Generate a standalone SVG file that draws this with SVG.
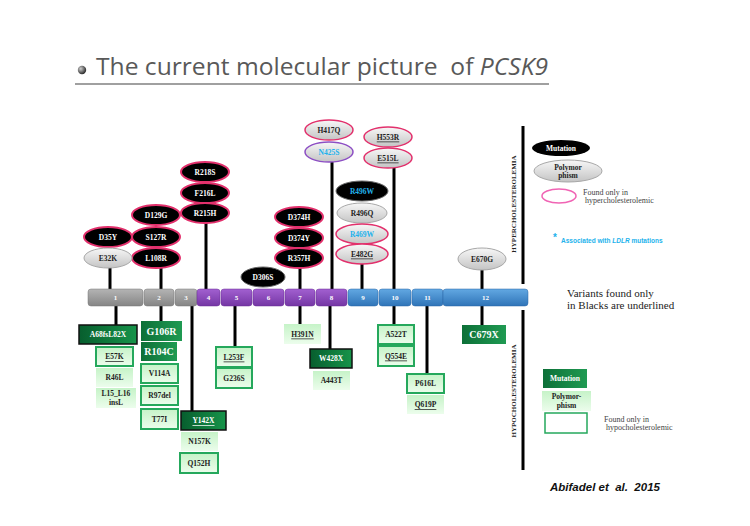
<svg xmlns="http://www.w3.org/2000/svg" width="750" height="526" viewBox="0 0 750 526">
<defs>
<linearGradient id="gray" x1="0" y1="0" x2="0" y2="1"><stop offset="0" stop-color="#f7f7f7"/><stop offset="1" stop-color="#c4c4c4"/></linearGradient>
<linearGradient id="exg" x1="0" y1="0" x2="0" y2="1"><stop offset="0" stop-color="#b4b4b4"/><stop offset="1" stop-color="#858585"/></linearGradient>
<linearGradient id="exp" x1="0" y1="0" x2="0" y2="1"><stop offset="0" stop-color="#a260d0"/><stop offset="1" stop-color="#7436a4"/></linearGradient>
<linearGradient id="exb" x1="0" y1="0" x2="0" y2="1"><stop offset="0" stop-color="#62a8e2"/><stop offset="1" stop-color="#2f74b8"/></linearGradient>
<linearGradient id="dg" x1="0" y1="0" x2="1" y2="0"><stop offset="0" stop-color="#075e2e"/><stop offset="1" stop-color="#17944a"/></linearGradient>
<linearGradient id="mg" x1="0" y1="0" x2="1" y2="0"><stop offset="0" stop-color="#0d7038"/><stop offset="1" stop-color="#1f9a52"/></linearGradient>
<linearGradient id="lg" x1="0" y1="0" x2="0" y2="1"><stop offset="0" stop-color="#c6f3c8"/><stop offset="1" stop-color="#ecfdec"/></linearGradient>
<radialGradient id="ball" cx="0.35" cy="0.35" r="0.7"><stop offset="0" stop-color="#cfcfcf"/><stop offset="1" stop-color="#222"/></radialGradient>
<style>
.mut{fill:#000;stroke:#e2306c;stroke-width:2}
.mutb{fill:#000;stroke:#666;stroke-width:1}
.poly{fill:url(#gray);stroke:#a8a8a8;stroke-width:1}
.polyp{fill:url(#gray);stroke:#e2306c;stroke-width:1.5}
.polyv{fill:url(#gray);stroke:#8d4fc4;stroke-width:1.5}
.t{font-family:"Liberation Serif",serif;font-weight:bold;font-size:7.5px;text-anchor:middle;dominant-baseline:central;fill:#222}
.w{fill:#fff}
.cy{fill:#22b2ec}
.u{text-decoration:underline}
.big{font-size:10px}
.dgr{fill:url(#dg);stroke:#111;stroke-width:1.5}
.mgr{fill:url(#mg)}
.lgs{fill:url(#lg);stroke:#25a85c;stroke-width:2}
.lgn{fill:url(#lg)}
.ex{font-family:"Liberation Serif",serif;font-weight:bold;font-size:7px;fill:#fff;text-anchor:middle;dominant-baseline:central}
.cn line{stroke:#000;stroke-width:3}
.leg{font-family:"Liberation Serif",serif;font-size:8px;fill:#444}
</style>
</defs>
<rect width="750" height="526" fill="#fff"/>
<g id="title">
<circle cx="82" cy="70" r="4.2" fill="url(#ball)"/>
<text x="96" y="75" font-family="Open Sans, sans-serif" font-size="23" fill="#595959" xml:space="preserve" textLength="452" lengthAdjust="spacingAndGlyphs">The current molecular picture  of <tspan font-style="italic">PCSK9</tspan></text>
<line x1="75" y1="84" x2="549" y2="84" stroke="#808080" stroke-width="1.5"/>
</g>
<g id="connectors" class="cn">
<line x1="110" y1="268" x2="110" y2="289"/>
<line x1="161" y1="268" x2="161" y2="289"/>
<line x1="206" y1="223" x2="206" y2="289"/>
<line x1="300" y1="268" x2="300" y2="289"/>
<line x1="332" y1="162" x2="332" y2="289"/>
<line x1="362" y1="264" x2="362" y2="289"/>
<line x1="394" y1="168" x2="394" y2="289"/>
<line x1="482" y1="270" x2="482" y2="289"/>
<line x1="116" y1="306" x2="116" y2="325"/>
<line x1="161" y1="306" x2="161" y2="321"/>
<line x1="192" y1="306" x2="192" y2="411"/>
<line x1="235" y1="306" x2="235" y2="347"/>
<line x1="300" y1="306" x2="300" y2="324"/>
<line x1="330" y1="306" x2="330" y2="349"/>
<line x1="394" y1="306" x2="394" y2="325"/>
<line x1="427" y1="306" x2="427" y2="374"/>
<line x1="482" y1="306" x2="482" y2="325"/>
<line x1="523" y1="126" x2="523" y2="284"/>
<line x1="523" y1="310" x2="523" y2="470"/>
</g>
<g id="exons">
<rect x="88" y="289" width="55" height="17" rx="3" fill="url(#exg)" stroke="#777" stroke-width="0.5"/><text class="ex" x="115.5" y="297.5">1</text>
<rect x="144" y="289" width="30" height="17" rx="3" fill="url(#exg)" stroke="#777" stroke-width="0.5"/><text class="ex" x="159" y="297.5">2</text>
<rect x="175" y="289" width="22" height="17" rx="3" fill="url(#exg)" stroke="#777" stroke-width="0.5"/><text class="ex" x="186" y="297.5">3</text>
<rect x="197" y="289" width="23" height="17" rx="3" fill="url(#exp)" stroke="#6a2f96" stroke-width="0.5"/><text class="ex" x="208.5" y="297.5">4</text>
<rect x="221" y="289" width="31" height="17" rx="3" fill="url(#exp)" stroke="#6a2f96" stroke-width="0.5"/><text class="ex" x="236.5" y="297.5">5</text>
<rect x="253" y="289" width="31" height="17" rx="3" fill="url(#exp)" stroke="#6a2f96" stroke-width="0.5"/><text class="ex" x="268.5" y="297.5">6</text>
<rect x="285" y="289" width="30" height="17" rx="3" fill="url(#exp)" stroke="#6a2f96" stroke-width="0.5"/><text class="ex" x="300" y="297.5">7</text>
<rect x="316" y="289" width="31" height="17" rx="3" fill="url(#exp)" stroke="#6a2f96" stroke-width="0.5"/><text class="ex" x="331.5" y="297.5">8</text>
<rect x="348" y="289" width="30" height="17" rx="3" fill="url(#exb)" stroke="#2a66a6" stroke-width="0.5"/><text class="ex" x="363" y="297.5">9</text>
<rect x="379" y="289" width="32" height="17" rx="3" fill="url(#exb)" stroke="#2a66a6" stroke-width="0.5"/><text class="ex" x="395" y="297.5">10</text>
<rect x="412" y="289" width="31" height="17" rx="3" fill="url(#exb)" stroke="#2a66a6" stroke-width="0.5"/><text class="ex" x="427.5" y="297.5">11</text>
<rect x="443" y="289" width="85" height="17" rx="3" fill="url(#exb)" stroke="#2a66a6" stroke-width="0.5"/><text class="ex" x="485.5" y="297.5">12</text>
</g>
<g id="R218S"><ellipse class="mut" cx="205" cy="172" rx="24" ry="10"/><text class="t w" x="205" y="172">R218S</text></g>
<g id="F216L"><ellipse class="mut" cx="205" cy="193" rx="24" ry="10"/><text class="t w" x="205" y="193">F216L</text></g>
<g id="R215H"><ellipse class="mut" cx="205" cy="213" rx="24" ry="10"/><text class="t w" x="205" y="213">R215H</text></g>
<g id="D129G"><ellipse class="mut" cx="156" cy="215" rx="24" ry="10"/><text class="t w" x="156" y="215">D129G</text></g>
<g id="S127R"><ellipse class="mut" cx="156" cy="237" rx="24" ry="10"/><text class="t w" x="156" y="237">S127R</text></g>
<g id="L108R"><ellipse class="mut" cx="156" cy="258" rx="24" ry="10"/><text class="t w" x="156" y="258">L108R</text></g>
<g id="D35Y"><ellipse class="mut" cx="108" cy="237" rx="24" ry="10"/><text class="t w" x="108" y="237">D35Y</text></g>
<g id="E32K"><ellipse class="poly" cx="108" cy="258" rx="24" ry="10"/><text class="t" x="108" y="258">E32K</text></g>
<g id="D306S"><ellipse class="mutb" cx="263" cy="277" rx="22" ry="10"/><text class="t w" x="263" y="277">D306S</text></g>
<g id="D374H"><ellipse class="mut" cx="299" cy="217" rx="24" ry="10"/><text class="t w" x="299" y="217">D374H</text></g>
<g id="D374Y"><ellipse class="mut" cx="299" cy="238" rx="24" ry="10"/><text class="t w" x="299" y="238">D374Y</text></g>
<g id="R357H"><ellipse class="mut" cx="299" cy="258" rx="24" ry="10"/><text class="t w" x="299" y="258">R357H</text></g>
<g id="H417Q"><ellipse class="polyp" cx="329" cy="130" rx="24" ry="10"/><text class="t" x="329" y="130">H417Q</text></g>
<g id="N425S"><ellipse class="polyv" cx="329" cy="152" rx="24" ry="10"/><text class="t cy" x="329" y="152">N425S</text></g>
<g id="H553R"><ellipse class="polyp" cx="388" cy="137" rx="24" ry="10"/><text class="t u" x="388" y="137">H553R</text></g>
<g id="E515L"><ellipse class="polyp" cx="388" cy="158" rx="24" ry="10"/><text class="t u" x="388" y="158">E515L</text></g>
<g id="R496W"><ellipse class="mutb" cx="362" cy="191" rx="26" ry="10"/><text class="t cy" x="362" y="191">R496W</text></g>
<g id="R496Q"><ellipse class="poly" cx="362" cy="213" rx="25" ry="10"/><text class="t" x="362" y="213">R496Q</text></g>
<g id="R469W"><ellipse class="polyp" cx="362" cy="234" rx="26" ry="10"/><text class="t cy" x="362" y="234">R469W</text></g>
<g id="E482G"><ellipse class="polyp" cx="362" cy="254" rx="26" ry="10"/><text class="t u" x="362" y="254">E482G</text></g>
<g id="E670G"><ellipse class="poly" cx="482" cy="259" rx="24" ry="11"/><text class="t" x="482" y="259">E670G</text></g>
<g id="A68fsL82X"><rect class="dgr" x="79" y="325" width="58" height="19"/><text class="t w" x="108" y="334.5" font-size="9">A68fsL82X</text></g>
<g id="E57K"><rect class="lgs" x="96" y="347" width="37" height="19"/><text class="t u" x="114.5" y="356.5">E57K</text></g>
<g id="R46L"><rect class="lgn" x="96" y="368" width="37" height="19"/><text class="t" x="114.5" y="377.5">R46L</text></g>
<g id="L15_L16insL"><rect class="lgn" x="96" y="388" width="40" height="20"/><text class="t" x="116" y="393.5">L15_L16</text><text class="t" x="116" y="402">insL</text></g>
<g id="G106R"><rect class="mgr" x="141" y="321" width="41" height="20"/><text class="t w big" x="161.5" y="331">G106R</text></g>
<g id="R104C"><rect class="mgr" x="141" y="342" width="36" height="19"/><text class="t w big" x="159" y="351.5">R104C</text></g>
<g id="V114A"><rect class="lgs" x="141" y="364" width="37" height="19"/><text class="t" x="159.5" y="373.5">V114A</text></g>
<g id="R97del"><rect class="lgs" x="141" y="386" width="37" height="19"/><text class="t" x="159.5" y="395.5">R97del</text></g>
<g id="T77I"><rect class="lgs" x="141" y="409" width="37" height="20"/><text class="t" x="159.5" y="419">T77I</text></g>
<g id="Y142X"><rect class="dgr" x="181" y="411" width="45" height="19"/><text class="t w u" x="203.5" y="420.5">Y142X</text></g>
<g id="N157K"><rect class="lgn" x="181" y="432" width="37" height="19"/><text class="t" x="199.5" y="441.5">N157K</text></g>
<g id="Q152H"><rect class="lgs" x="180" y="453" width="38" height="20"/><text class="t" x="199" y="463">Q152H</text></g>
<g id="L253F"><rect class="lgs" x="216" y="347" width="36" height="20"/><text class="t u" x="234" y="357">L253F</text></g>
<g id="G236S"><rect class="lgs" x="216" y="368" width="36" height="20"/><text class="t" x="234" y="378">G236S</text></g>
<g id="H391N"><rect class="lgn" x="284" y="324" width="37" height="20"/><text class="t u" x="302.5" y="334">H391N</text></g>
<g id="W428X"><rect class="dgr" x="310" y="349" width="42" height="19"/><text class="t w" x="331" y="358.5">W428X</text></g>
<g id="A443T"><rect class="lgn" x="313" y="371" width="37" height="19"/><text class="t" x="331.5" y="380.5">A443T</text></g>
<g id="A522T"><rect class="lgs" x="378" y="325" width="36" height="19"/><text class="t" x="396" y="334.5">A522T</text></g>
<g id="Q554E"><rect class="lgs" x="378" y="346" width="36" height="20"/><text class="t u" x="396" y="356">Q554E</text></g>
<g id="P616L"><rect class="lgs" x="407" y="374" width="37" height="19"/><text class="t" x="425.5" y="383.5">P616L</text></g>
<g id="Q619P"><rect class="lgn" x="407" y="395" width="37" height="19"/><text class="t u" x="425.5" y="404.5">Q619P</text></g>
<g id="C679X"><rect class="mgr" x="462" y="325" width="44" height="19"/><text class="t w big" x="484" y="334.5">C679X</text></g>
<g id="labels">
<text transform="translate(516,204) rotate(-90)" font-family="Liberation Serif, serif" font-weight="bold" font-size="7" text-anchor="middle" fill="#222">HYPERCHOLESTEROLEMIA</text>
<text transform="translate(516,391) rotate(-90)" font-family="Liberation Serif, serif" font-weight="bold" font-size="7" text-anchor="middle" fill="#222">HYPOCHOLESTEROLEMIA</text>
<text x="567" y="297" font-family="Liberation Serif, serif" font-size="11" fill="#222">Variants found only</text>
<text x="567" y="309" font-family="Liberation Serif, serif" font-size="11" fill="#222">in Blacks are underlined</text>
<text x="550" y="491" font-family="Liberation Sans, sans-serif" font-weight="bold" font-style="italic" font-size="11.5" fill="#111" xml:space="preserve">Abifadel et  al.  2015</text>
</g>
<g id="legend-hyper">
<ellipse cx="561" cy="148" rx="29" ry="8" fill="#000"/><text class="t w" x="561" y="148">Mutation</text>
<ellipse class="poly" cx="568" cy="171" rx="34" ry="11"/><text class="t" x="568" y="167" font-weight="normal">Polymor</text><text class="t" x="568" y="175" font-weight="normal">phism</text>
<ellipse cx="559" cy="196" rx="17" ry="7" fill="#fff" stroke="#f064b4" stroke-width="1.5"/>
<text class="leg" x="583" y="195">Found only in</text>
<text class="leg" x="583" y="203" xml:space="preserve"> hypercholesterolemic</text>
<text x="553" y="241" font-family="Liberation Sans, sans-serif" font-weight="bold" font-size="10" fill="#22b2ec">*</text>
<text x="561" y="243" font-family="Liberation Sans, sans-serif" font-weight="bold" font-size="6.5" fill="#22b2ec">Associated with <tspan font-style="italic">LDLR</tspan> mutations</text>
</g>
<g id="legend-hypo">
<rect x="543" y="369" width="44" height="19" fill="url(#mg)"/><text class="t w" x="565" y="378.5">Mutation</text>
<rect class="lgn" x="542" y="391" width="49" height="20"/><text class="t" x="566.5" y="396.5">Polymor-</text><text class="t" x="566.5" y="405">phism</text>
<rect x="545" y="413" width="42" height="20" fill="#fff" stroke="#25a85c" stroke-width="1.5"/>
<text class="leg" x="604" y="422" font-size="7">Found only in</text>
<text class="leg" x="604" y="430" font-size="7" xml:space="preserve"> hypocholesterolemic</text>
</g>
</svg>
